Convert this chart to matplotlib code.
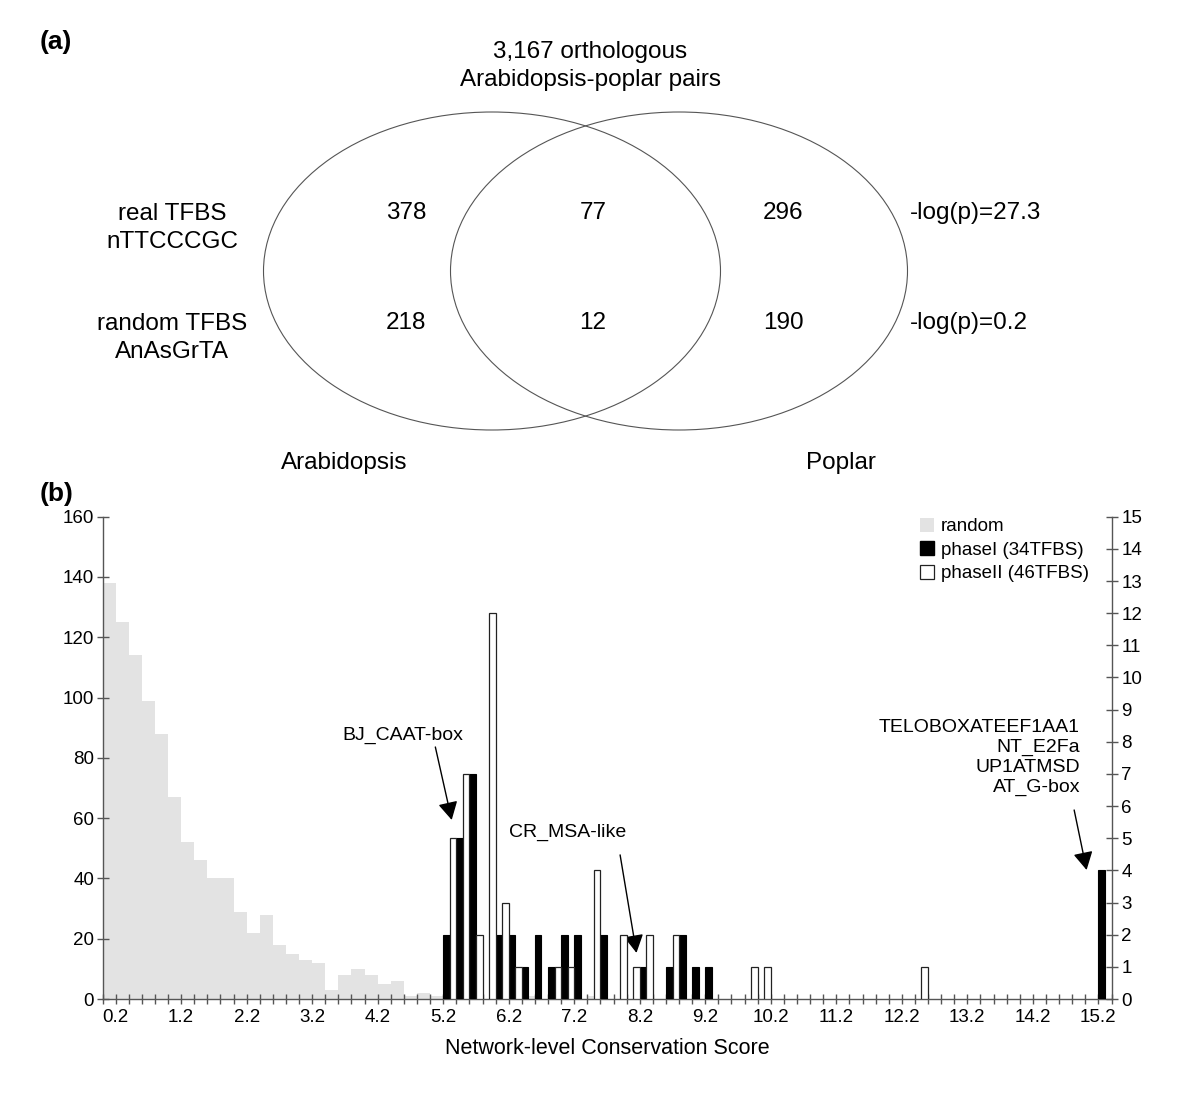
import matplotlib
matplotlib.use("Agg")
import matplotlib.pyplot as plt
from matplotlib.patches import Ellipse, Patch

plt.rcParams["font.family"] = ["Liberation Sans", "DejaVu Sans"]

# ── Panel (a): Venn counts ───────────────────────────────────────────────────
row_labels = ["real TFBS\nnTTCCCGC", "random TFBS\nAnAsGrTA"]
arab_only = [378, 218]
shared = [77, 12]
poplar_only = [296, 190]
neg_log_p = [27.3, 0.2]

# ── Panel (b): histogram of conservation scores (bin left edges) ─────────────
bin_width = 0.2
random_scores = [0.0, 0.2, 0.4, 0.6, 0.8, 1.0, 1.2, 1.4, 1.6, 1.8, 2.0, 2.2, 2.4,
                 2.6, 2.8, 3.0, 3.2, 3.4, 3.6, 3.8, 4.0, 4.2, 4.4, 4.6, 4.8, 5.0,
                 6.4, 7.4]
random_counts = [138, 125, 114, 99, 88, 67, 52, 46, 40, 40, 29, 22, 28,
                 18, 15, 13, 12, 3, 8, 10, 8, 5, 6, 1, 2, 1,
                 1, 1]
phase1_scores = [5.2, 5.4, 5.6, 6.0, 6.2, 6.4, 6.6, 6.8, 7.0, 7.2, 7.6, 8.2,
                 8.6, 8.8, 9.0, 9.2, 15.2]
phase1_counts = [2, 5, 7, 2, 2, 1, 2, 1, 2, 2, 2, 1, 1, 2, 1, 1, 4]
phase2_scores = [5.2, 5.4, 5.6, 5.8, 6.0, 6.2, 6.8, 7.0, 7.4, 7.8, 8.0, 8.2,
                 8.6, 9.8, 10.0, 12.4]
phase2_counts = [5, 7, 2, 12, 3, 1, 1, 1, 4, 2, 1, 2, 2, 1, 1, 1]
x_labels = ["0.2", "1.2", "2.2", "3.2", "4.2", "5.2", "6.2", "7.2", "8.2",
            "9.2", "10.2", "11.2", "12.2", "13.2", "14.2", "15.2"]
x_max = 15.4

W, H = 1200, 1108
fig = plt.figure(figsize=(W / 100, H / 100), dpi=100)

# ── (a) Venn diagram, drawn in a pixel-space overlay axes ────────────────────
axa = fig.add_axes([0, 0, 1, 1])
axa.set_xlim(0, W)
axa.set_ylim(H, 0)
axa.axis("off")

venn_fs = 17.5
ecol = "#555555"
axa.add_patch(Ellipse((492, 271), 457, 318, fill=False, ec=ecol, lw=0.8))
axa.add_patch(Ellipse((679, 271), 457, 318, fill=False, ec=ecol, lw=0.8))

axa.text(40, 42, "(a)", fontsize=19, fontweight="bold", va="center", ha="left")
axa.text(590, 66, "3,167 orthologous\nArabidopsis-poplar pairs", fontsize=venn_fs,
         ha="center", va="center", linespacing=1.3)

row_y = [213, 323]
for i in range(2):
    axa.text(172, row_y[i] + 15, row_labels[i], fontsize=venn_fs, ha="center",
             va="center", linespacing=1.3)
    axa.text(406, row_y[i], str(arab_only[i]), fontsize=venn_fs, ha="center", va="center")
    axa.text(593, row_y[i], str(shared[i]), fontsize=venn_fs, ha="center", va="center")
    axa.text(783, row_y[i], str(poplar_only[i]), fontsize=venn_fs, ha="center", va="center")
    axa.text(910, row_y[i], "-log(p)=%s" % neg_log_p[i], fontsize=venn_fs,
             ha="left", va="center")

axa.text(344, 463, "Arabidopsis", fontsize=venn_fs, ha="center", va="center")
axa.text(841, 463, "Poplar", fontsize=venn_fs, ha="center", va="center")
axa.text(40, 494, "(b)", fontsize=19, fontweight="bold", va="center", ha="left")

# ── (b) Histogram ────────────────────────────────────────────────────────────
left, right, bottom_px, top_px = 102.5, 1111.5, 999, 516.7
ax = fig.add_axes([left / W, 1 - bottom_px / H, (right - left) / W,
                   (bottom_px - top_px) / H])
ax.patch.set_alpha(0)
ax2 = ax.twinx()

ax.bar(random_scores, random_counts, width=bin_width, align="edge",
       color="#e3e3e3", lw=0, zorder=1)
ax2.bar(phase1_scores, phase1_counts, width=bin_width / 2, align="edge",
        color="black", ec="black", lw=0.8, zorder=3)
ax2.bar([s + bin_width / 2 for s in phase2_scores], phase2_counts,
        width=bin_width / 2, align="edge", color="white", ec="#222222",
        lw=0.9, zorder=3)

ax.set_xlim(0, x_max)
ax.set_ylim(0, 160)
ax2.set_ylim(0, 15)

axis_col = "#555555"
ax.set_yticks(range(0, 161, 20))
ax2.set_yticks(range(0, 16))
major_x = [float(t) for t in x_labels]
ax.set_xticks(major_x)
ax.set_xticklabels(x_labels)
minor_x = [i * bin_width for i in range(int(round(x_max / bin_width)) + 1)]
ax.set_xticks(minor_x, minor=True)

tick_fs = 13.5
for a in (ax, ax2):
    a.spines["top"].set_visible(False)
    for s in a.spines.values():
        s.set_color(axis_col)
        s.set_linewidth(1.0)
ax.spines["right"].set_visible(False)
ax2.spines["left"].set_visible(False)
ax2.spines["bottom"].set_visible(False)

ax.tick_params(axis="x", which="both", direction="inout", length=7, width=1,
               color=axis_col, labelsize=tick_fs, pad=4)
ax.tick_params(axis="y", direction="inout", length=8, width=1,
               color=axis_col, labelsize=tick_fs, pad=2)
ax2.tick_params(axis="y", direction="inout", length=8, width=1,
                color=axis_col, labelsize=tick_fs, pad=3)

ax.set_xlabel("Network-level Conservation Score", fontsize=15.5, labelpad=8)

# annotations
ann_fs = 14
arrow = dict(arrowstyle="-|>,head_length=0.55,head_width=0.3", color="black",
             lw=1.0, shrinkA=0, shrinkB=0, mutation_scale=20)
ax.text(4.59, 87.6, "BJ_CAAT-box", fontsize=ann_fs, ha="center", va="center")
ax.annotate("", xy=(5.33, 59.4), xytext=(5.08, 83.6), arrowprops=arrow)
ax.text(7.10, 55.4, "CR_MSA-like", fontsize=ann_fs, ha="center", va="center")
ax.annotate("", xy=(8.15, 15.3), xytext=(7.90, 47.8), arrowprops=arrow)
ax.text(14.92, 80.1, "TELOBOXATEEF1AA1\nNT_E2Fa\nUP1ATMSD\nAT_G-box",
        fontsize=ann_fs, ha="right", va="center", multialignment="right",
        linespacing=1.22)
ax.annotate("", xy=(15.02, 42.8), xytext=(14.83, 62.7), arrowprops=arrow)

handles = [Patch(fc="#e3e3e3", ec="none"),
           Patch(fc="black", ec="black"),
           Patch(fc="white", ec="#222222", lw=0.9)]
ax2.legend(handles, ["random", "phaseI (34TFBS)", "phaseII (46TFBS)"],
           loc="upper left", bbox_to_anchor=(920 / W, 1 - 518 / H),
           bbox_transform=fig.transFigure, frameon=False, fontsize=tick_fs,
           handlelength=0.75, handleheight=0.75, handletextpad=0.35,
           labelspacing=0.32, borderpad=0, borderaxespad=0)

fig.savefig("out.png", dpi=100)
